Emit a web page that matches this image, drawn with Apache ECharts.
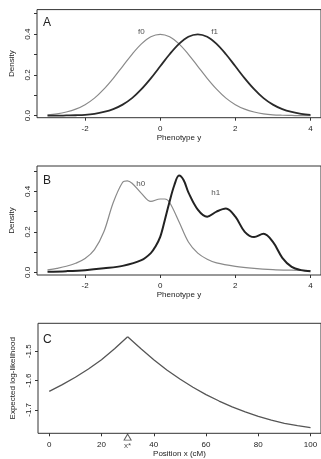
<!DOCTYPE html>
<html>
<head>
<meta charset="utf-8">
<script src="https://cdn.jsdelivr.net/npm/echarts@6/dist/echarts.min.js"></script>
<style>html,body{margin:0;padding:0;background:#fff}#c{width:321px;height:459px}</style>
</head>
<body>
<div id="c"></div>
<script>
// Panel A: two normal densities
const fX = [-3,-2.75,-2.5,-2.25,-2,-1.75,-1.5,-1.25,-1,-0.75,-0.5,-0.25,0,0.25,0.5,0.75,1,1.25,1.5,1.75,2,2.25,2.5,2.75,3,3.25,3.5,3.75,4];
const f0Y = [0.004,0.009,0.018,0.032,0.054,0.086,0.130,0.183,0.242,0.301,0.352,0.387,0.399,0.387,0.352,0.301,0.242,0.183,0.130,0.086,0.054,0.032,0.018,0.009,0.004,0.002,0.001,0.000,0.000];
const f1Y = [0.000,0.000,0.001,0.002,0.004,0.009,0.018,0.032,0.054,0.086,0.130,0.183,0.242,0.301,0.352,0.387,0.399,0.387,0.352,0.301,0.242,0.183,0.130,0.086,0.054,0.032,0.018,0.009,0.004];
// Panel B: mixture densities
const h0X = [-3,-2.75,-2.5,-2.25,-2,-1.75,-1.5,-1.25,-1,-0.875,-0.75,-0.5,-0.25,0,0.125,0.25,0.5,0.75,1,1.25,1.5,2,2.5,3,3.5,4];
const h0Y = [0.012,0.02,0.03,0.045,0.068,0.112,0.2,0.345,0.445,0.452,0.44,0.39,0.35,0.362,0.362,0.345,0.25,0.15,0.095,0.065,0.047,0.03,0.02,0.014,0.011,0.009];
const h1X = [-3,-2.5,-2,-1.5,-1,-0.5,-0.25,-0.125,0,0.125,0.25,0.375,0.5,0.625,0.75,1,1.25,1.5,1.75,2,2.25,2.5,2.75,3,3.25,3.5,3.75,4];
const h1Y = [0.003,0.006,0.011,0.02,0.032,0.06,0.095,0.128,0.175,0.26,0.35,0.43,0.478,0.455,0.395,0.31,0.275,0.30,0.315,0.275,0.20,0.174,0.19,0.15,0.072,0.027,0.011,0.006];
// Panel C: expected log-likelihood vs position
const cX = [0,5,10,15,20,25,30,35,40,45,50,55,60,65,70,75,80,85,90,95,100];
const cY = [-1.637,-1.614,-1.589,-1.561,-1.529,-1.492,-1.451,-1.491,-1.529,-1.564,-1.595,-1.623,-1.648,-1.670,-1.690,-1.707,-1.722,-1.735,-1.746,-1.754,-1.761];
const cPeakX = 30;
// Tick values / labels
const densXTicks = [-2,0,2,4];
const densYTicks = [0,0.1,0.2,0.3,0.4,0.5];
const densYLabels = [0,0.2,0.4];
const cXTicks = [0,20,40,60,80,100];
const cYTicks = [-1.7,-1.6,-1.5];
// Curve annotations
const labelsA = [[-0.5,0.41,'f0'],[1.45,0.41,'f1']];
const labelsB = [[-0.52,0.435,'h0'],[1.48,0.393,'h1']];

const FONT = '"Liberation Sans", Arial, Helvetica, sans-serif';
const TXT = '#222';

function pairs(xs, ys){ return xs.map((x,i)=>[x,ys[i]]); }

function xAxisDef(gi, min, max, ticks, name, gap){
  return {
    type:'value', gridIndex:gi, min:min, max:max, position:'bottom',
    name:name, nameLocation:'middle', nameGap:gap,
    nameTextStyle:{fontFamily:FONT,fontSize:8,color:TXT},
    axisLine:{show:false,onZero:false},
    splitLine:{show:false},
    axisTick:{show:true,length:3,inside:false,customValues:ticks,lineStyle:{color:'#333',width:1}},
    axisLabel:{customValues:ticks,margin:7,fontFamily:FONT,fontSize:8,color:TXT,
      formatter:v=>String(Math.round(v*100)/100)}
  };
}
function yAxisDef(gi, min, max, ticks, labels, dec, name){
  return {
    type:'value', gridIndex:gi, min:min, max:max, position:'left',
    name:name, nameLocation:'middle', nameGap:16, nameRotate:90,
    nameTextStyle:{fontFamily:FONT,fontSize:8,color:TXT},
    axisLine:{show:false,onZero:false},
    splitLine:{show:false},
    axisTick:{show:true,length:3,inside:false,customValues:ticks,lineStyle:{color:'#333',width:1}},
    axisLabel:{customValues:labels,rotate:90,margin:5,fontFamily:FONT,fontSize:8,color:TXT,
      formatter:v=>v.toFixed(dec)}
  };
}
function lineS(xi, data, color, width, smooth){
  return {type:'line', xAxisIndex:xi, yAxisIndex:xi, data:data, smooth:smooth, showSymbol:false,
    symbol:'none', lineStyle:{color:color,width:width}, silent:true, animation:false};
}
function textS(xi, items){
  return {type:'scatter', xAxisIndex:xi, yAxisIndex:xi, symbolSize:0, silent:true, animation:false,
    data:items.map(d=>({value:[d[0],d[1]], name:d[2]})),
    label:{show:true, position:'inside', formatter:p=>p.name, fontFamily:FONT, fontSize:8, color:TXT}};
}

const peakIdx = cX.indexOf(cPeakX);
const cData = pairs(cX, cY);

const option = {
  backgroundColor:'#fff',
  animation:false,
  grid:[
    {left:37, top:9.6, width:293, height:108.1, show:true, borderColor:'#333', borderWidth:1, backgroundColor:'transparent'},
    {left:37, top:166, width:293, height:109, show:true, borderColor:'#333', borderWidth:1, backgroundColor:'transparent'},
    {left:38, top:323.3, width:292.4, height:110, show:true, borderColor:'#333', borderWidth:1, backgroundColor:'transparent'}
  ],
  xAxis:[
    xAxisDef(0,-3.28,4.28,densXTicks,'Phenotype y',16),
    xAxisDef(1,-3.28,4.28,densXTicks,'Phenotype y',16),
    xAxisDef(2,-4.3,104,cXTicks,'Position x (cM)',16)
  ],
  yAxis:[
    yAxisDef(0,-0.01,0.52,densYTicks,densYLabels,1,'Density'),
    yAxisDef(1,-0.013,0.525,densYTicks,densYLabels,1,'Density'),
    yAxisDef(2,-1.78,-1.405,cYTicks,cYTicks,1,'Expected log-likelihood')
  ],
  graphic:[
    {type:'text', left:43, top:17, style:{text:'A', font:'12px '+FONT, fill:TXT}},
    {type:'text', left:43, top:175, style:{text:'B', font:'12px '+FONT, fill:TXT}},
    {type:'text', left:43, top:334, style:{text:'C', font:'12px '+FONT, fill:TXT}}
  ],
  series:[
    lineS(0, pairs(fX,f0Y), '#8a8a8a', 1.2, 0.35),
    lineS(0, pairs(fX,f1Y), '#2a2a2a', 1.8, 0.35),
    textS(0, labelsA),
    lineS(1, pairs(h0X,h0Y), '#8a8a8a', 1.2, 0.35),
    lineS(1, pairs(h1X,h1Y), '#222', 2, 0.35),
    textS(1, labelsB),
    lineS(2, cData.slice(0,peakIdx+1), '#555', 1.3, false),
    lineS(2, cData.slice(peakIdx), '#555', 1.3, false),
    {type:'scatter', xAxisIndex:2, yAxisIndex:2, clip:false, silent:true, animation:false,
      symbol:'triangle', symbolSize:[7,6],
      itemStyle:{color:'#fff', borderColor:'#333', borderWidth:1},
      data:[{value:[cPeakX,-1.793], name:'x*'}],
      label:{show:true, position:'bottom', distance:1, formatter:p=>p.name, fontFamily:FONT, fontSize:8, color:TXT}}
  ]
};
const chart = echarts.init(document.getElementById('c'), null, {renderer:'canvas'});
chart.setOption(option);
</script>
</body>
</html>
